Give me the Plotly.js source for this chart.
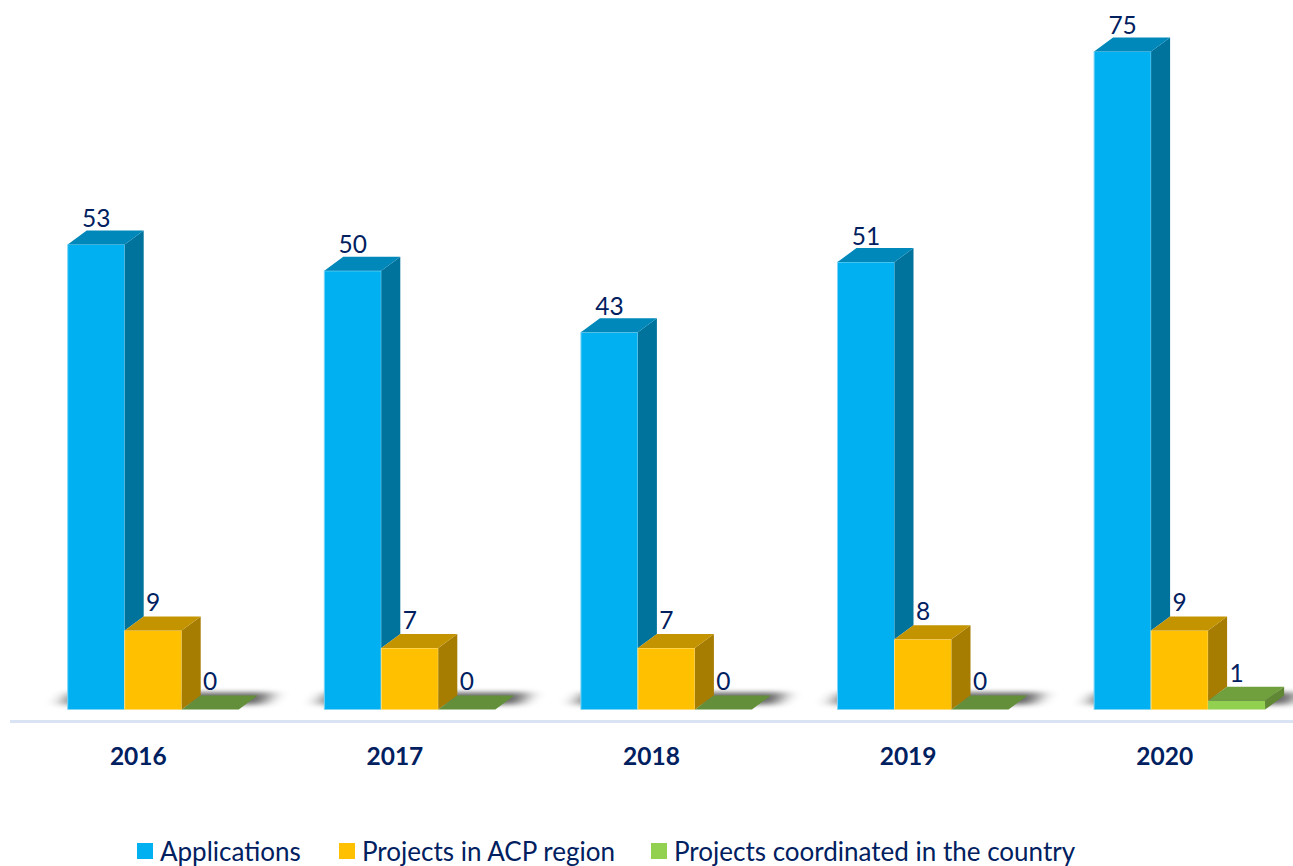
<!DOCTYPE html>
<html>
<head>
<meta charset="utf-8">
<script src="https://cdn.plot.ly/plotly-3.0.1.min.js"></script>
<style>html,body{margin:0;padding:0;background:#fff;overflow:hidden}#chart{width:1293px;height:866px}</style>
</head>
<body>
<div id="chart"></div>
<script>
const years = ['2016', '2017', '2018', '2019', '2020'];
const applications = [53, 50, 43, 51, 75];
const acpProjects = [9, 7, 7, 8, 9];
const coordinated = [0, 0, 0, 0, 1];
const seriesNames = ['Applications', 'Projects in ACP region', 'Projects coordinated in the country'];
const frontColors = ['#00b0f0', '#ffc000', '#92d050'];
const topColors = ['#0088ba', '#c49400', '#709f3d'];
const sideColors = ['#00739d', '#a67d00', '#5f8734'];
const outlineColors = ['#7fd6f6', '#ffdc7a', '#b5e08a'];
const emptyTopColor = '#648f3a';
const labelLift = [-0.3, -0.12, -0.12];

const ink = '#002060';
const face = 'Lato, Carlito, sans-serif';
const W = 1293, H = 866, L = 10, B = 146;
const pxPerCat = (W - L) / 5;
const pxPerUnit = 658 / 75;
const barW = 57 / pxPerCat, startOff = -70.6 / pxPerCat;
const dx = 19 / pxPerCat, dy = 14 / pxPerUnit;
const yMax = 709.5 / pxPerUnit, yMin = -10.5 / pxPerUnit;

const series = [applications, acpProjects, coordinated];
const xs = years.map((_, i) => i);
const traces = [];

// front faces: real bars
series.forEach((vals, s) => {
  traces.push({
    type: 'bar', x: xs, y: vals, width: barW, offset: startOff + s * barW,
    marker: {color: frontColors[s], line: {color: outlineColors[s], width: s === 2 ? 0 : 1}},
    showlegend: false, hoverinfo: 'y', name: seriesNames[s]
  });
});

// top and side faces, derived from the values
function poly(points, color) {
  const x = [], y = [];
  points.forEach(p => { p.forEach(q => { x.push(q[0]); y.push(q[1]); }); x.push(null); y.push(null); });
  return {type: 'scatter', mode: 'lines', x, y, fill: 'toself', fillcolor: color,
          line: {width: 0, color: color}, hoverinfo: 'skip', showlegend: false};
}
series.forEach((vals, s) => {
  const sides = [], tops = [], emptyTops = [];
  vals.forEach((v, i) => {
    const x0 = i + startOff + s * barW, x1 = x0 + barW;
    const next = s < 2 ? series[s + 1][i] : 0;
    const low = Math.min(next, v);
    if (v > 0) sides.push([[x1, v], [x1 + dx, v + dy], [x1 + dx, low + dy], [x1, low]]);
    (v > 0 ? tops : emptyTops).push([[x0, v], [x0 + dx, v + dy], [x1 + dx, v + dy], [x1, v]]);
  });
  traces.push(poly(sides, sideColors[s]));
  traces.push(poly(tops, topColors[s]));
  if (emptyTops.length) traces.push(poly(emptyTops, emptyTopColor));
});

// value labels
series.forEach((vals, s) => {
  traces.push({
    type: 'scatter', mode: 'text',
    x: xs.map(i => i + startOff + (s + 0.5) * barW),
    y: vals.map(v => v + dy + labelLift[s]),
    text: vals.map(String), textposition: 'top center',
    textfont: {family: face, size: 24.5, color: ink},
    hoverinfo: 'skip', showlegend: false, cliponaxis: false
  });
});

// legend entries, one legend box per entry so that each sits where the reference has it
const legendIds = ['legend', 'legend2', 'legend3'];
seriesNames.forEach((n, s) => {
  traces.push({
    type: 'scatter', mode: 'markers', x: [null], y: [null], name: n,
    marker: {symbol: 'square', size: 17, color: frontColors[s]},
    legend: legendIds[s], showlegend: true, hoverinfo: 'skip'
  });
});

// soft floor shadows (blurred after plotting)
const shapes = [];
xs.forEach(i => {
  const cx = i + startOff;
  const xa = cx - 6 / pxPerCat, xb = cx + 3 * barW + 24 / pxPerCat;
  const ya = 5 / pxPerUnit, yb = 17 / pxPerUnit;
  const path = `M${xa},${ya}L${xb},${ya}L${xb + 10 / pxPerCat},${yb}L${xa + 10 / pxPerCat},${yb}Z`;
  shapes.push({type: 'path', xref: 'x', yref: 'y', path, layer: 'below',
               fillcolor: '#000', opacity: 0.6, line: {width: 0}});
});

const legendBox = (px) => ({
  xref: 'container', yref: 'container', x: px / W, y: 1 - 851 / H, xanchor: 'left', yanchor: 'middle',
  orientation: 'h', bgcolor: 'rgba(0,0,0,0)', borderwidth: 0,
  font: {family: face, size: 26, color: ink}, itemclick: false, itemdoubleclick: false
});

const layout = {
  width: W, height: H, autosize: false,
  margin: {l: L, r: 0, t: 0, b: B, pad: 0},
  paper_bgcolor: '#fff', plot_bgcolor: '#fff',
  barmode: 'overlay', showlegend: true,
  hovermode: 'closest',
  xaxis: {
    type: 'linear', range: [-0.5, 4.5], tickmode: 'array', tickvals: xs, ticktext: years,
    tickfont: {family: face, size: 24.5, color: ink, weight: 700},
    ticks: 'outside', ticklen: 13, tickcolor: 'rgba(0,0,0,0)', showgrid: false, zeroline: false,
    showline: true, linecolor: '#dae3f3', linewidth: 2.5, fixedrange: true
  },
  yaxis: {range: [yMin, yMax], visible: false, fixedrange: true, showgrid: false, zeroline: false},
  shapes,
  legend: legendBox(120),
  legend2: legendBox(322),
  legend3: legendBox(634)
};

Plotly.newPlot('chart', traces, layout, {displayModeBar: false, responsive: false}).then(() => {
  const svg = document.querySelector('#chart .main-svg');
  const ns = 'http://www.w3.org/2000/svg';
  const defs = document.createElementNS(ns, 'defs');
  const filter = document.createElementNS(ns, 'filter');
  filter.setAttribute('id', 'floorShadow');
  filter.setAttribute('x', '-30%'); filter.setAttribute('y', '-200%');
  filter.setAttribute('width', '160%'); filter.setAttribute('height', '500%');
  const blur = document.createElementNS(ns, 'feGaussianBlur');
  blur.setAttribute('stdDeviation', '9 2.5');
  filter.appendChild(blur); defs.appendChild(filter); svg.appendChild(defs);
  document.querySelectorAll('.shapelayer path').forEach(p => { p.setAttribute('filter', 'url(#floorShadow)'); });
  document.querySelectorAll('.legendpoints').forEach(g => { g.setAttribute('transform', 'translate(5,0)'); });
});
</script>
</body>
</html>
